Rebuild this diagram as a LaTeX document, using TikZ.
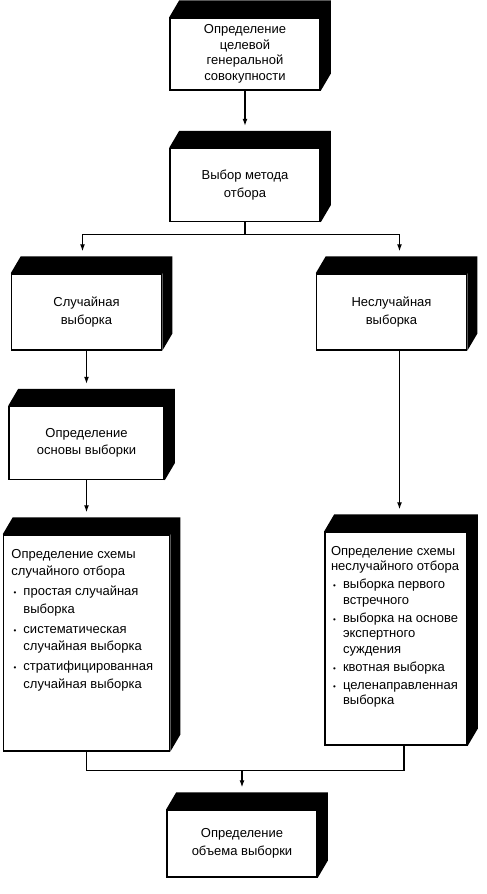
\documentclass[tikz,border=0pt]{standalone}
\usepackage{fontspec}
\setmainfont{Liberation Sans}
\usepackage{tikz}
\usetikzlibrary{positioning,arrows.meta}

\newcommand{\bitem}[1]{\par\vspace{2.5pt}\noindent\hangindent=12pt\hangafter=1%
  \makebox[12pt][l]{\hspace{2pt}{\fontsize{8}{8}\selectfont •}}#1}

\begin{document}
\begin{tikzpicture}[
x=1pt, y=-1pt,
node distance=55pt,
box/.style={draw, line width=1.5pt, fill=white, minimum width=150pt, align=center, inner sep=2pt, font=\fontsize{13}{17.5}\selectfont},
scheme/.style={draw, line width=1.5pt, fill=white, inner xsep=8pt, inner ysep=14pt, font=\fontsize{13}{17.5}\selectfont},
arrow/.style={-{Latex[length=7pt,width=5pt]}, line width=1.2pt, shorten >=22pt},
link/.style={line width=1.2pt}
]
\useasboundingbox (0,0) rectangle (487,894);

\node[box, minimum height=72pt, font=\fontsize{13}{15.5}\selectfont] (target) at (245,54) {Определение\\целевой\\генеральной\\совокупности};
\node[box, minimum height=73pt, below=57pt of target] (method) {Выбор метода\\отбора};
\node[box, minimum height=76pt] (random) at (86.5,312) {Случайная\\выборка};
\node[box, minimum height=76pt] (nonrandom) at (391.5,312) {Неслучайная\\выборка};
\node[box, minimum height=73pt, minimum width=155pt, below=of random] (frame) {Определение\\основы выборки};
\node[scheme, below=54pt of frame] (rscheme) {\parbox[c][188pt][t]{150pt}{%
  Определение схемы\newline случайного отбора
  \bitem{простая случайная\newline выборка}
  \bitem{систематическая\newline случайная выборка}
  \bitem{стратифицированная\newline случайная выборка}}};
\node[scheme, inner xsep=6pt, font=\fontsize{13}{15.5}\selectfont] (nscheme) at (396,638.5) {\parbox[c][185pt][t]{130pt}{%
  Определение схемы\newline неслучайного отбора
  \bitem{выборка первого\newline встречного}
  \bitem{выборка на основе\newline экспертного\newline суждения}
  \bitem{квотная выборка}
  \bitem{целенаправленная\newline выборка}}};
\node[box, minimum height=67pt] (size) at (242,843.5) {Определение\\объема выборки};

% black top and side faces
\foreach \n in {target,method,random,nonrandom,frame,rscheme,nscheme,size}
  \fill (\n.north west) -- ++(10pt,17pt) -- ([shift={(10pt,17pt)}]\n.north east)
    -- ([shift={(10pt,17pt)}]\n.south east) -- (\n.south east) -- (\n.north east) -- cycle;

\draw[arrow] (target) -- (method);
\draw[link] (method.south) -- ++(0,12) coordinate (split);
\draw[arrow] (split) -| ([xshift=-4pt]random.north);
\draw[arrow] (split) -| ([xshift=8pt]nonrandom.north);
\draw[arrow] (random) -- (frame);
\draw[arrow] (frame) -- (rscheme);
\coordinate (nr) at ([xshift=8pt]nonrandom.south);
\draw[arrow] (nr) -- (nr |- nscheme.north);
\draw[link] (rscheme.south) -- ++(0,19) coordinate (merge) -| ([xshift=8pt]nscheme.south);
\draw[arrow] (merge -| size.north) -- (size.north);
\end{tikzpicture}
\end{document}
